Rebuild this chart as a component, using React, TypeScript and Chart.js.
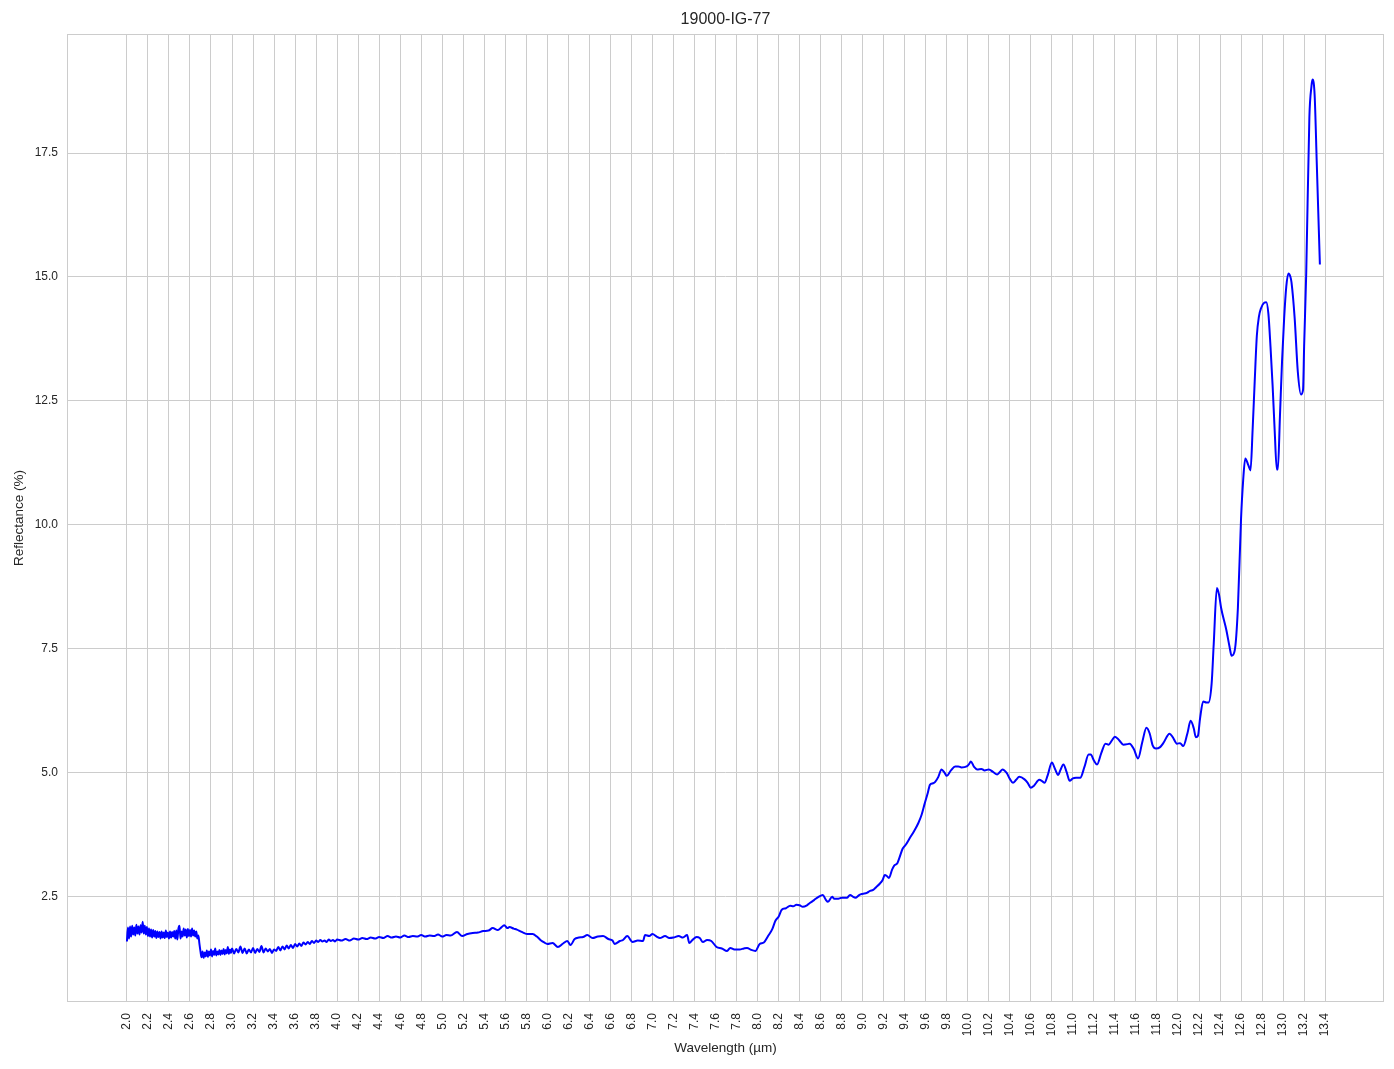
import React, { useEffect, useRef } from "react";
import { Chart, registerables } from "chart.js";

Chart.register(...registerables);

const chartTitle = "19000-IG-77";
const xLabel = "Wavelength (µm)";
const yLabel = "Reflectance (%)";

const xTicks = [
  2.0, 2.2, 2.4, 2.6, 2.8, 3.0, 3.2, 3.4, 3.6, 3.8, 4.0, 4.2, 4.4, 4.6, 4.8, 5.0, 5.2, 5.4, 5.6, 5.8,
  6.0, 6.2, 6.4, 6.6, 6.8, 7.0, 7.2, 7.4, 7.6, 7.8, 8.0, 8.2, 8.4, 8.6, 8.8, 9.0, 9.2, 9.4, 9.6, 9.8,
  10.0, 10.2, 10.4, 10.6, 10.8, 11.0, 11.2, 11.4, 11.6, 11.8, 12.0, 12.2, 12.4, 12.6, 12.8, 13.0, 13.2, 13.4,
];
const yTicks = [2.5, 5.0, 7.5, 10.0, 12.5, 15.0, 17.5];

const wavelength = [
  2.00, 2.01, 2.02, 2.03, 2.04, 2.05, 2.06, 2.07, 2.08, 2.09,
  2.10, 2.11, 2.12, 2.13, 2.14, 2.15, 2.16, 2.17, 2.18, 2.19,
  2.20, 2.21, 2.22, 2.23, 2.24, 2.25, 2.26, 2.27, 2.28, 2.29,
  2.30, 2.31, 2.32, 2.33, 2.34, 2.35, 2.36, 2.37, 2.38, 2.39,
  2.40, 2.41, 2.42, 2.43, 2.44, 2.45, 2.46, 2.47, 2.48, 2.49,
  2.50, 2.51, 2.52, 2.53, 2.54, 2.55, 2.56, 2.57, 2.58, 2.59,
  2.60, 2.61, 2.62, 2.63, 2.64, 2.65, 2.66, 2.67, 2.68, 2.69,
  2.70, 2.71, 2.72, 2.73, 2.74, 2.75, 2.76, 2.77, 2.78, 2.79,
  2.80, 2.81, 2.82, 2.83, 2.84, 2.85, 2.86, 2.87, 2.88, 2.89,
  2.90, 2.91, 2.92, 2.93, 2.94, 2.95, 2.96, 2.97, 2.98, 2.99,
  3.00, 3.02, 3.04, 3.06, 3.08, 3.10, 3.12, 3.14, 3.16, 3.18,
  3.20, 3.22, 3.24, 3.26, 3.28, 3.30, 3.32, 3.34, 3.36, 3.38,
  3.40, 3.42, 3.44, 3.46, 3.48, 3.50, 3.52, 3.54, 3.56, 3.58,
  3.60, 3.62, 3.64, 3.66, 3.68, 3.70, 3.72, 3.74, 3.76, 3.78,
  3.80, 3.82, 3.84, 3.86, 3.88, 3.90, 3.92, 3.94, 3.96, 3.98,
  4.00, 4.04, 4.08, 4.12, 4.16, 4.20, 4.24, 4.28, 4.32, 4.36,
  4.40, 4.44, 4.48, 4.52, 4.56, 4.60, 4.64, 4.68, 4.72, 4.76,
  4.80, 4.84, 4.88, 4.92, 4.96, 5.00, 5.04, 5.08, 5.14, 5.19,
  5.24, 5.29, 5.34, 5.39, 5.44, 5.48, 5.53, 5.56, 5.59, 5.62,
  5.64, 5.68, 5.71, 5.74, 5.77, 5.81, 5.86, 5.90, 5.94, 5.97,
  6.00, 6.05, 6.10, 6.15, 6.19, 6.22, 6.26, 6.30, 6.34, 6.38,
  6.43, 6.48, 6.53, 6.58, 6.62, 6.64, 6.69, 6.72, 6.76, 6.81,
  6.86, 6.91, 6.93, 6.97, 7.00, 7.04, 7.07, 7.12, 7.16, 7.20,
  7.25, 7.29, 7.33, 7.35, 7.38, 7.42, 7.45, 7.48, 7.52, 7.56,
  7.61, 7.66, 7.71, 7.74, 7.78, 7.83, 7.87, 7.90, 7.94, 7.98,
  8.02, 8.06, 8.10, 8.14, 8.17, 8.20, 8.23, 8.27, 8.31, 8.34,
  8.37, 8.40, 8.43, 8.47, 8.50, 8.54, 8.58, 8.62, 8.65, 8.67,
  8.71, 8.73, 8.76, 8.80, 8.85, 8.88, 8.91, 8.93, 8.97, 9.00,
  9.04, 9.07, 9.10, 9.13, 9.16, 9.19, 9.21, 9.23, 9.25, 9.28,
  9.30, 9.33, 9.35, 9.38, 9.41, 9.45, 9.49, 9.53, 9.56, 9.59,
  9.62, 9.64, 9.67, 9.69, 9.72, 9.75, 9.78, 9.80, 9.84, 9.88,
  9.91, 9.94, 9.99, 10.01, 10.03, 10.06, 10.09, 10.13, 10.16, 10.20,
  10.24, 10.28, 10.31, 10.33, 10.37, 10.40, 10.43, 10.46, 10.49, 10.54,
  10.57, 10.60, 10.63, 10.68, 10.71, 10.73, 10.76, 10.80, 10.83, 10.86,
  10.88, 10.91, 10.94, 10.97, 11.00, 11.03, 11.07, 11.11, 11.15, 11.17,
  11.20, 11.23, 11.27, 11.31, 11.34, 11.37, 11.40, 11.44, 11.48, 11.52,
  11.54, 11.58, 11.62, 11.66, 11.70, 11.73, 11.76, 11.79, 11.83, 11.86,
  11.92, 11.95, 11.99, 12.02, 12.05, 12.09, 12.12, 12.15, 12.17, 12.19,
  12.21, 12.24, 12.27, 12.29, 12.32, 12.34, 12.37, 12.39, 12.41, 12.46,
  12.49, 12.51, 12.54, 12.57, 12.60, 12.62, 12.64, 12.67, 12.69, 12.71,
  12.73, 12.75, 12.77, 12.79, 12.82, 12.84, 12.86, 12.88, 12.90, 12.92,
  12.94, 12.95, 12.97, 12.99, 13.01, 13.03, 13.05, 13.07, 13.08, 13.11,
  13.14, 13.17, 13.19, 13.20, 13.22, 13.25, 13.27, 13.28, 13.30, 13.32,
  13.35,
];

const reflectance = [
  1.60, 1.88, 1.66, 1.90, 1.70, 1.92, 1.74, 1.88, 1.72, 1.94,
  1.76, 1.90, 1.74, 1.93, 1.78, 2.00, 1.76, 1.92, 1.74, 1.89,
  1.71, 1.86, 1.70, 1.84, 1.68, 1.83, 1.70, 1.81, 1.67, 1.80,
  1.69, 1.79, 1.66, 1.80, 1.68, 1.78, 1.67, 1.82, 1.69, 1.78,
  1.66, 1.80, 1.68, 1.79, 1.70, 1.81, 1.66, 1.82, 1.64, 1.86,
  1.92, 1.66, 1.80, 1.70, 1.86, 1.72, 1.84, 1.68, 1.85, 1.71,
  1.83, 1.70, 1.86, 1.72, 1.82, 1.70, 1.80, 1.66, 1.72, 1.55,
  1.40, 1.28, 1.40, 1.27, 1.38, 1.30, 1.42, 1.29, 1.40, 1.32,
  1.44, 1.30, 1.41, 1.33, 1.46, 1.32, 1.40, 1.34, 1.43, 1.33,
  1.42, 1.35, 1.45, 1.34, 1.43, 1.36, 1.49, 1.35, 1.44, 1.37,
  1.46, 1.36, 1.45, 1.38, 1.50, 1.37, 1.46, 1.36, 1.44, 1.38,
  1.47, 1.37, 1.45, 1.39, 1.51, 1.38, 1.46, 1.40, 1.45, 1.37,
  1.44, 1.41, 1.49, 1.42, 1.50, 1.44, 1.52, 1.46, 1.53, 1.47,
  1.55, 1.50, 1.56, 1.51, 1.58, 1.54, 1.59, 1.55, 1.61, 1.57,
  1.62, 1.59, 1.63, 1.60, 1.62, 1.59, 1.64, 1.61, 1.63, 1.60,
  1.64, 1.62, 1.65, 1.62, 1.66, 1.64, 1.67, 1.65, 1.68, 1.66,
  1.69, 1.67, 1.71, 1.68, 1.70, 1.68, 1.72, 1.69, 1.71, 1.70,
  1.73, 1.70, 1.72, 1.71, 1.74, 1.70, 1.73, 1.72, 1.79, 1.71,
  1.75, 1.77, 1.78, 1.81, 1.82, 1.87, 1.83, 1.88, 1.93, 1.87,
  1.89, 1.86, 1.84, 1.81, 1.78, 1.75, 1.75, 1.70, 1.62, 1.58,
  1.55, 1.57, 1.49, 1.56, 1.61, 1.53, 1.65, 1.68, 1.69, 1.73,
  1.67, 1.70, 1.71, 1.65, 1.62, 1.55, 1.61, 1.63, 1.71, 1.59,
  1.62, 1.61, 1.73, 1.71, 1.75, 1.70, 1.67, 1.71, 1.67, 1.68,
  1.71, 1.68, 1.73, 1.57, 1.63, 1.69, 1.67, 1.59, 1.63, 1.61,
  1.49, 1.46, 1.41, 1.47, 1.44, 1.44, 1.46, 1.47, 1.43, 1.41,
  1.55, 1.58, 1.71, 1.85, 2.02, 2.10, 2.24, 2.27, 2.32, 2.31,
  2.34, 2.33, 2.30, 2.33, 2.38, 2.44, 2.50, 2.54, 2.44, 2.40,
  2.50, 2.46, 2.46, 2.48, 2.48, 2.54, 2.50, 2.48, 2.54, 2.56,
  2.58, 2.62, 2.64, 2.70, 2.76, 2.84, 2.94, 2.92, 2.88, 3.05,
  3.13, 3.18, 3.29, 3.47, 3.55, 3.69, 3.83, 3.99, 4.15, 4.38,
  4.60, 4.76, 4.79, 4.82, 4.92, 5.07, 5.00, 4.94, 5.05, 5.13,
  5.13, 5.11, 5.13, 5.17, 5.23, 5.12, 5.07, 5.08, 5.05, 5.07,
  5.02, 4.97, 5.03, 5.07, 5.00, 4.88, 4.80, 4.86, 4.92, 4.87,
  4.80, 4.70, 4.74, 4.86, 4.83, 4.80, 4.95, 5.21, 5.08, 4.96,
  5.05, 5.17, 5.02, 4.84, 4.89, 4.90, 4.90, 5.12, 5.37, 5.37,
  5.25, 5.17, 5.40, 5.59, 5.57, 5.65, 5.73, 5.66, 5.57, 5.58,
  5.59, 5.48, 5.29, 5.62, 5.91, 5.80, 5.55, 5.49, 5.52, 5.60,
  5.79, 5.72, 5.59, 5.60, 5.54, 5.80, 6.05, 5.90, 5.72, 5.75,
  6.10, 6.44, 6.42, 6.42, 6.80, 7.60, 8.73, 8.60, 8.33, 7.88,
  7.55, 7.36, 7.47, 8.33, 10.13, 10.90, 11.34, 11.20, 11.10, 11.92,
  12.90, 13.81, 14.20, 14.37, 14.48, 14.49, 14.26, 13.60, 12.82, 11.90,
  11.12, 11.12, 12.19, 13.30, 14.17, 14.80, 15.07, 15.00, 14.89, 14.17,
  13.09, 12.63, 12.73, 13.60, 15.07, 18.22, 18.85, 18.98, 18.67, 17.32,
  15.25,
];

const GRID = "#cccccc";
const TEXT = "#262626";
const FONT = "'Liberation Sans', Arial, sans-serif";

const framePlugin = {
  id: "frame",
  beforeDatasetsDraw(chart: any) {
    const { ctx, chartArea } = chart;
    ctx.save();
    ctx.strokeStyle = GRID;
    ctx.lineWidth = 1;
    ctx.strokeRect(
      Math.round(chartArea.left) + 0.5,
      Math.round(chartArea.top) + 0.5,
      Math.round(chartArea.right - chartArea.left) - 1,
      Math.round(chartArea.bottom - chartArea.top) - 1
    );
    ctx.restore();
  },
};

export default function App() {
  const ref = useRef<HTMLCanvasElement | null>(null);

  useEffect(() => {
    if (!ref.current) return;
    const points = wavelength.map((x, i) => ({ x, y: reflectance[i] }));
    const chart = new Chart(ref.current, {
      type: "line",
      data: {
        datasets: [
          {
            data: points,
            borderColor: "#0000ff",
            borderWidth: 2,
            pointRadius: 0,
            fill: false,
            cubicInterpolationMode: "monotone",
          },
        ],
      },
      options: {
        animation: false,
        responsive: false,
        devicePixelRatio: 1,
        layout: { padding: { top: 0, right: 10, bottom: 0, left: 0 } },
        plugins: {
          legend: { display: false },
          tooltip: { enabled: false },
          title: {
            display: true,
            fullSize: false,
            text: chartTitle,
            color: TEXT,
            font: { family: FONT, size: 16, weight: "normal", lineHeight: 1.2 },
            padding: { top: 10.4, bottom: 4.4 },
          },
        },
        scales: {
          x: {
            type: "linear",
            min: 1.43,
            max: 13.96,
            afterBuildTicks: (scale: any) => {
              scale.ticks = xTicks.map((v) => ({ value: v }));
            },
            afterFit: (scale: any) => {
              scale.height = 67;
            },
            grid: { color: GRID, lineWidth: 1, drawTicks: false },
            border: { display: false },
            ticks: {
              autoSkip: false,
              minRotation: 90,
              maxRotation: 90,
              padding: 11,
              color: TEXT,
              font: { family: FONT, size: 12 },
              callback: (v: any) => Number(v).toFixed(1),
            },
            title: {
              display: true,
              text: xLabel,
              color: TEXT,
              font: { family: FONT, size: 13.5 },
              padding: { top: 0, bottom: 12.5 },
            },
          },
          y: {
            type: "linear",
            min: 0.38,
            max: 19.9,
            afterBuildTicks: (scale: any) => {
              scale.ticks = yTicks.map((v) => ({ value: v }));
            },
            afterFit: (scale: any) => {
              scale.width = 67;
            },
            grid: { color: GRID, lineWidth: 1, drawTicks: false },
            border: { display: false },
            ticks: {
              padding: 9,
              color: TEXT,
              font: { family: FONT, size: 12 },
              callback: (v: any) => Number(v).toFixed(1),
            },
            title: {
              display: true,
              text: yLabel,
              color: TEXT,
              font: { family: FONT, size: 13.5 },
              padding: { top: 11, bottom: 0 },
            },
          },
        },
      },
      plugins: [framePlugin],
    });
    return () => chart.destroy();
  }, []);

  return (
    <div style={{ position: "absolute", left: 0, top: 0, width: 1394, height: 1069, background: "#ffffff" }}>
      <canvas ref={ref} width={1394} height={1069} style={{ display: "block" }} />
    </div>
  );
}
